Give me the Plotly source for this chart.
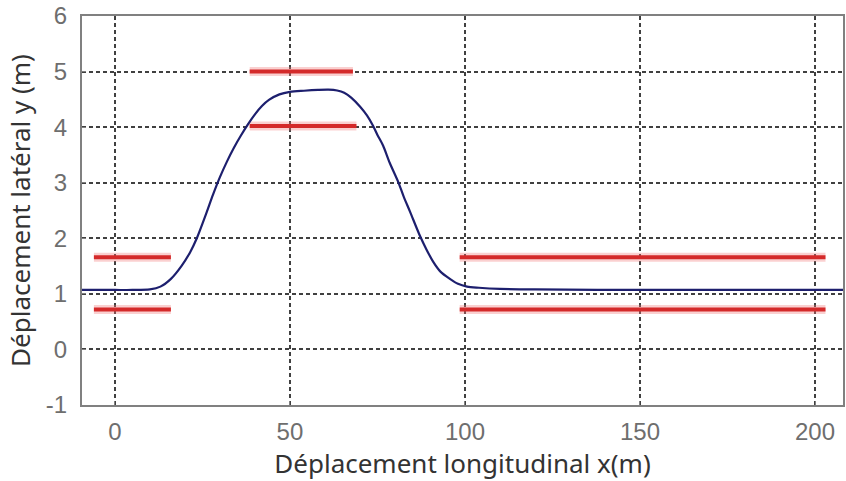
import plotly.graph_objects as go

# Trajectory (blue)
traj_x = [-9.5, 0, 5, 10, 13, 16, 19, 21.5, 23.4, 26, 28, 30, 32, 34, 36, 38, 40, 42, 44, 47, 50, 54, 58, 61,
          63.5, 65.5, 67.5, 70, 72, 73.7, 75, 76.6, 78.5, 80.9, 82.5, 84.3, 87.1, 89, 90.9, 93, 95.7, 98,
          100.6, 104, 110, 120, 150, 208]
traj_y = [1.07, 1.07, 1.07, 1.08, 1.13, 1.27, 1.5, 1.75, 2.0, 2.43, 2.78, 3.1, 3.38, 3.63, 3.85, 4.05, 4.23, 4.38, 4.49, 4.59, 4.635, 4.655, 4.67, 4.675,
          4.66, 4.62, 4.53, 4.37, 4.21, 4.03, 3.86, 3.67, 3.36, 3.02, 2.75, 2.48, 2.05, 1.8, 1.58, 1.4, 1.27, 1.18,
          1.13, 1.11, 1.09, 1.08, 1.07, 1.07]

# Lane boundaries (red segments)
bound_x0 = [-6, -6, 38.5, 38.5, 98.5, 98.5]
bound_x1 = [16, 16, 68, 69, 203, 203]
bound_y = [1.66, 0.72, 5.0, 4.02, 1.66, 0.72]

x_ticks = [0, 50, 100, 150, 200]
y_ticks = [-1, 0, 1, 2, 3, 4, 5, 6]
y_tick_text = ["-1", "0", "1", "2", "3", "4", "5", "6"]

fig = go.Figure()
for x0, x1, y in zip(bound_x0, bound_x1, bound_y):
    fig.add_trace(go.Scatter(x=[x0, x1], y=[y, y], mode="lines",
                             line=dict(color="rgba(240,120,120,0.35)", width=9),
                             hoverinfo="skip", showlegend=False))
    fig.add_trace(go.Scatter(x=[x0, x1], y=[y, y], mode="lines",
                             line=dict(color="#d42a2a", width=4),
                             showlegend=False))

fig.add_trace(go.Scatter(x=traj_x, y=traj_y, mode="lines", line_shape="spline",
                         line=dict(color="#1d1f6e", width=2.2, smoothing=0.8), showlegend=False))

axis_common = dict(
    showgrid=True, gridcolor="#404040", griddash="4px,3px", gridwidth=1.5,
    showline=True, mirror=True, linecolor="#808080", linewidth=2,
    ticks="inside", ticklen=4, tickcolor="#808080",
    zeroline=False,
    tickfont=dict(family="Liberation Sans", size=24, color="#6e6e6e"),
)

fig.update_xaxes(range=[-9.4, 208], tickvals=x_ticks, ticklabelstandoff=4,
                 title=dict(text="Déplacement longitudinal x(m)", standoff=4,
                            font=dict(family="Noto Sans", size=26, color="#333333")),
                 **axis_common)
fig.update_yaxes(range=[-1, 6], tickvals=y_ticks, ticktext=y_tick_text, ticklabelstandoff=8,
                 title=dict(text="Déplacement latéral y (m)", standoff=8,
                            font=dict(family="Noto Sans", size=26, color="#333333")),
                 **axis_common)

fig.update_layout(
    width=846, height=481,
    margin=dict(l=82, r=3, t=16, b=76, autoexpand=False),
    paper_bgcolor="white", plot_bgcolor="white",
)

fig.write_html("out.html")
